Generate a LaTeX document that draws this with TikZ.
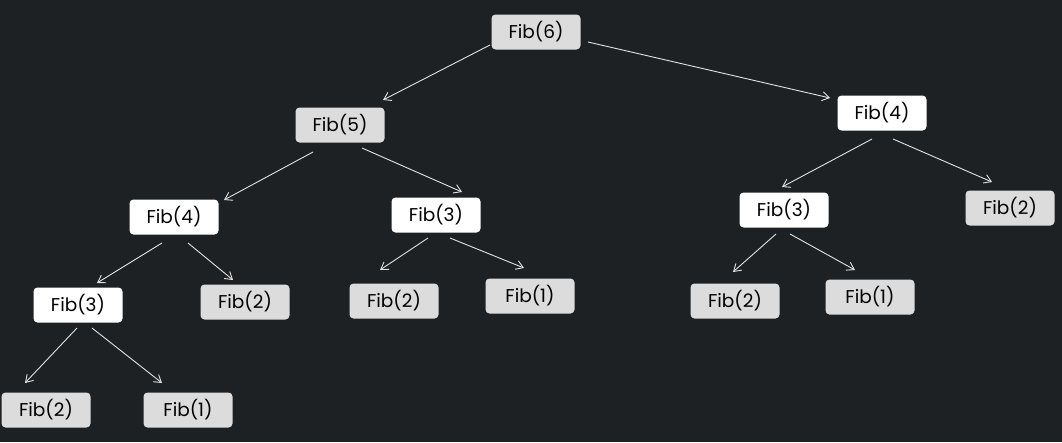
\documentclass[tikz,border=0pt]{standalone}
\usepackage{fontspec}
\setmainfont{Poppins}
\usetikzlibrary{arrows.meta}
\definecolor{bg}{HTML}{1E2124}
\definecolor{boxgray}{HTML}{DCDCDC}
\definecolor{linec}{HTML}{E2E2E2}
\tikzset{
  fibbox/.style={rounded corners=4pt, minimum width=89pt, minimum height=35pt, inner sep=0pt, font=\fontsize{18.5}{20}\selectfont, text=black},
  graybox/.style={fibbox, fill=boxgray},
  whitebox/.style={fibbox, fill=white},
  arr/.style={draw=linec, line width=0.9pt, -{Straight Barb[length=7pt,width=9pt,line width=0.9pt]}}
}
\begin{document}
\begin{tikzpicture}[x=1pt,y=-1pt]
\fill[bg] (0,0) rectangle (1062,442);
\useasboundingbox (0,0) rectangle (1062,442);
\node[graybox] (f6) at (536,32) {Fib(6)};
\node[graybox] (f5) at (340,125) {Fib(5)};
\node[whitebox] (f4R) at (882,113) {Fib(4)};
\node[whitebox] (f4L) at (174,217) {Fib(4)};
\node[whitebox] (f3M) at (436,215) {Fib(3)};
\node[whitebox] (f3R) at (784,210) {Fib(3)};
\node[graybox] (f2R) at (1010,208) {Fib(2)};
\node[whitebox] (f3L) at (78,305) {Fib(3)};
\node[graybox] (f2a) at (245,302) {Fib(2)};
\node[graybox] (f2b) at (394,301) {Fib(2)};
\node[graybox] (f1a) at (530,296) {Fib(1)};
\node[graybox] (f2c) at (735,301) {Fib(2)};
\node[graybox] (f1b) at (870,297) {Fib(1)};
\node[graybox] (f2d) at (46,410) {Fib(2)};
\node[graybox] (f1c) at (188,410) {Fib(1)};
\draw[arr] ([shift={(-46,13)}]f6.center) -- ([shift={(43,-25)}]f5.center);
\draw[arr] ([shift={(52,10)}]f6.center) -- ([shift={(-52,-15)}]f4R.center);
\draw[arr] ([shift={(-27,27)}]f5.center) -- ([shift={(50,-17)}]f4L.center);
\draw[arr] ([shift={(22,23)}]f5.center) -- ([shift={(26,-23)}]f3M.center);
\draw[arr] ([shift={(-10,26)}]f4R.center) -- ([shift={(-2,-23)}]f3R.center);
\draw[arr] ([shift={(11,26)}]f4R.center) -- ([shift={(-18,-26)}]f2R.center);
\draw[arr] ([shift={(-12,26)}]f4L.center) -- ([shift={(19,-22)}]f3L.center);
\draw[arr] ([shift={(14,26)}]f4L.center) -- ([shift={(-12,-22)}]f2a.center);
\draw[arr] ([shift={(-8,23)}]f3M.center) -- ([shift={(-14,-31)}]f2b.center);
\draw[arr] ([shift={(14,23)}]f3M.center) -- ([shift={(-6,-28)}]f1a.center);
\draw[arr] ([shift={(-8,24)}]f3R.center) -- ([shift={(-2,-29)}]f2c.center);
\draw[arr] ([shift={(6,24)}]f3R.center) -- ([shift={(-15,-27)}]f1b.center);
\draw[arr] ([shift={(-1,23)}]f3L.center) -- ([shift={(-21,-27)}]f2d.center);
\draw[arr] ([shift={(14,23)}]f3L.center) -- ([shift={(-26,-27)}]f1c.center);
\end{tikzpicture}
\end{document}
